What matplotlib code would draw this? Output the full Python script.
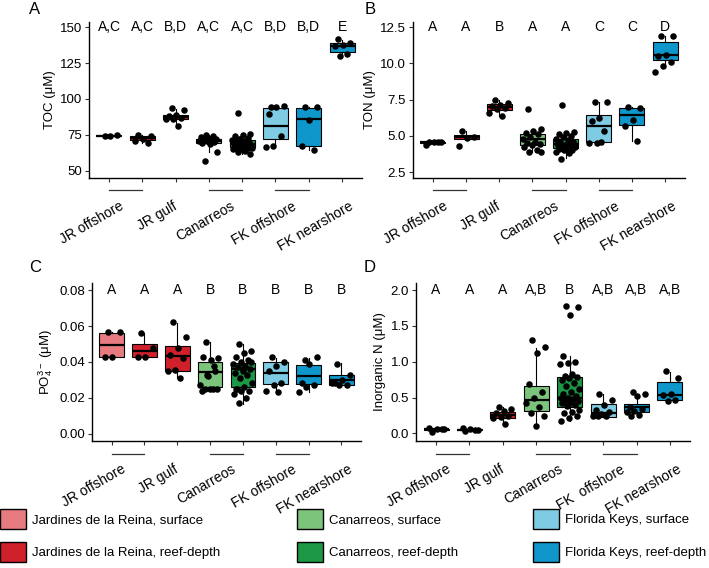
import matplotlib
matplotlib.use('Agg')
import matplotlib.pyplot as plt
import matplotlib.transforms as mtransforms
from matplotlib.patches import Patch
import numpy as np

plt.rcParams['font.family'] = ['Liberation Sans', 'DejaVu Sans']
plt.rcParams['mathtext.default'] = 'regular'

# groups: 8 boxes per panel
site_labels = ['JR offshore', 'JR gulf', 'Canarreos', 'FK offshore', 'FK nearshore']
legend_labels = ['Jardines de la Reina, surface', 'Jardines de la Reina, reef-depth',
                 'Canarreos, surface', 'Canarreos, reef-depth',
                 'Florida Keys, surface', 'Florida Keys, reef-depth']
palette = ['#E77B80', '#D0202B', '#7CC47C', '#1B9746', '#7FCBE4', '#0F96CB']
box_color_idx = [0, 1, 1, 2, 3, 4, 5, 5]

# ---- panel A: TOC
toc_q1 = [74.3, 71.5, 85.8, 69.5, 66.8, 72.0, 67.0, 133.0]
toc_med = [74.6, 73.0, 87.8, 71.0, 69.0, 81.5, 86.0, 136.5]
toc_q3 = [74.9, 74.3, 89.0, 72.5, 71.5, 93.8, 94.0, 138.8]
toc_lo = [74.3, 69.4, 81.0, 63.5, 62.0, 66.5, 64.5, 130.0]
toc_hi = [75.0, 74.8, 93.3, 75.0, 76.0, 94.5, 94.5, 141.0]
toc_pts = [
    [74.4, 74.9, 74.6],
    [74.8, 74.0, 72.5, 71.0, 69.4],
    [93.5, 92.5, 89.0, 88.0, 87.0, 86.2, 85.8, 81.0],
    [57.0, 63.5, 68.8, 69.5, 70.0, 70.5, 71.0, 71.5, 72.0, 72.5, 73.0, 73.5, 74.0, 75.0],
    [90.0, 76.0, 75.0, 74.0, 73.0, 72.0, 71.5, 71.0, 70.5, 70.0, 69.5, 69.0, 68.5, 68.0,
     67.5, 67.0, 66.5, 66.0, 65.5, 65.0, 64.0, 63.0, 62.0, 70.0, 68.0, 69.0, 72.0, 66.0],
    [94.5, 94.8, 94.2, 89.5, 74.0, 67.5, 66.5],
    [94.5, 94.5, 85.5, 67.0, 64.5],
    [142.0, 139.0, 137.5, 136.5, 131.0, 130.0],
]
toc_letters = ['A,C', 'A,C', 'B,D', 'A,C', 'A,C', 'B,D', 'B,D', 'E']

# ---- panel B: TON
ton_q1 = [4.50, 4.78, 6.80, 4.40, 4.15, 4.60, 5.75, 10.20]
ton_med = [4.55, 4.90, 6.98, 4.75, 4.45, 5.65, 6.45, 10.55]
ton_q3 = [4.58, 5.05, 7.18, 5.15, 4.75, 6.45, 6.95, 11.50]
ton_lo = [4.50, 4.75, 6.35, 3.85, 3.50, 4.50, 4.65, 9.80]
ton_hi = [4.60, 5.30, 7.50, 5.45, 5.25, 7.30, 7.00, 11.90]
ton_pts = [
    [4.6, 4.6, 4.6, 4.4, 4.55],
    [5.3, 4.95, 4.85, 4.3],
    [7.5, 7.25, 7.15, 7.05, 6.95, 6.85, 6.6, 6.35],
    [6.85, 5.45, 5.3, 5.2, 5.1, 4.9, 4.75, 4.6, 4.5, 4.45, 4.4, 4.2, 4.05, 3.9, 3.85],
    [7.1, 5.25, 5.2, 5.15, 5.0, 4.9, 4.8, 4.7, 4.6, 4.5, 4.4, 4.35, 4.3, 4.25, 4.2,
     4.15, 4.1, 4.05, 4.0, 3.9, 3.8, 3.4, 4.6, 4.3, 4.5],
    [7.3, 7.35, 6.2, 6.0, 5.3, 4.5, 4.5, 4.6],
    [7.0, 6.9, 6.1, 5.7, 4.65],
    [11.9, 11.9, 10.6, 10.5, 10.1, 9.8, 9.4],
]
ton_letters = ['A', 'A', 'B', 'A', 'A', 'C', 'C', 'D']

# ---- panel C: phosphate
po4_q1 = [0.0430, 0.0430, 0.0349, 0.0262, 0.0258, 0.0276, 0.0276, 0.0273]
po4_med = [0.0495, 0.0460, 0.0432, 0.0342, 0.0360, 0.0336, 0.0321, 0.0300]
po4_q3 = [0.0562, 0.0500, 0.0490, 0.0398, 0.0393, 0.0398, 0.0384, 0.0329]
po4_lo = [0.0430, 0.0430, 0.0308, 0.0244, 0.0168, 0.0240, 0.0235, 0.0270]
po4_hi = [0.0565, 0.0560, 0.0617, 0.0510, 0.0500, 0.0424, 0.0421, 0.0396]
po4_pts = [
    [0.0565, 0.0565, 0.0430, 0.0430],
    [0.0560, 0.0480, 0.0430, 0.0430],
    [0.0625, 0.0540, 0.0477, 0.0440, 0.0420, 0.0356, 0.0350, 0.0308],
    [0.0510, 0.0420, 0.0410, 0.0430, 0.0350, 0.0320, 0.0270, 0.0250, 0.0250,
     0.0250, 0.0250, 0.0240, 0.0380, 0.0330],
    [0.0500, 0.0460, 0.0450, 0.0430, 0.0410, 0.0400, 0.0390, 0.0380, 0.0370,
     0.0360, 0.0350, 0.0340, 0.0330, 0.0310, 0.0280, 0.0260, 0.0250, 0.0240,
     0.0240, 0.0220, 0.0200, 0.0170, 0.0400, 0.0360, 0.0250],
    [0.0430, 0.0400, 0.0380, 0.0350, 0.0280, 0.0270, 0.0240, 0.0230],
    [0.0410, 0.0430, 0.0390, 0.0285, 0.0270, 0.0260, 0.0235],
    [0.0390, 0.0330, 0.0300, 0.0280, 0.0270, 0.0270, 0.0280],
]
po4_letters = ['A', 'A', 'A', 'B', 'B', 'B', 'B', 'B']

# ---- panel D: inorganic N
din_q1 = [0.050, 0.050, 0.210, 0.313, 0.365, 0.235, 0.300, 0.470]
din_med = [0.060, 0.055, 0.260, 0.467, 0.490, 0.290, 0.365, 0.530]
din_q3 = [0.065, 0.060, 0.300, 0.668, 0.790, 0.410, 0.410, 0.720]
din_lo = [0.050, 0.040, 0.130, 0.100, 0.180, 0.240, 0.240, 0.450]
din_hi = [0.070, 0.080, 0.370, 1.190, 1.080, 0.550, 0.520, 0.860]
din_pts = [
    [0.02, 0.06, 0.065, 0.07, 0.06],
    [0.04, 0.055, 0.06, 0.08, 0.05],
    [0.37, 0.34, 0.31, 0.28, 0.25, 0.23, 0.22, 0.13],
    [1.30, 1.20, 1.12, 0.69, 0.58, 0.50, 0.42, 0.37, 0.28, 0.24, 0.10],
    [1.78, 1.76, 1.65, 1.08, 1.00, 0.99, 0.97, 0.83, 0.80, 0.79, 0.78, 0.75, 0.70,
     0.66, 0.62, 0.58, 0.55, 0.52, 0.50, 0.49, 0.48, 0.47, 0.45, 0.43, 0.42, 0.40,
     0.38, 0.33, 0.30, 0.28, 0.24, 0.22, 0.18],
    [0.55, 0.47, 0.40, 0.33, 0.30, 0.27, 0.25, 0.24, 0.24],
    [0.58, 0.55, 0.52, 0.37, 0.34, 0.32, 0.30, 0.26, 0.24],
    [0.87, 0.78, 0.55, 0.53, 0.47, 0.45],
]
din_letters = ['A', 'A', 'A', 'A,B', 'B', 'A,B', 'A,B', 'A,B']

W, H = 709, 568
fig = plt.figure(figsize=(W / 100, H / 100), dpi=100)


def px_axes(left, top, right, bottom):
    return fig.add_axes([left / W, 1 - bottom / H, (right - left) / W, (bottom - top) / H])


def panel(ax, q1, med, q3, lo, hi, pts, letters, ylim, yticks, yfmt, ylabel,
          letter_y, site_pos):
    pos = np.arange(1, 9)
    stats = [dict(med=med[i], q1=q1[i], q3=q3[i], whislo=lo[i], whishi=hi[i], fliers=[])
             for i in range(8)]
    bp = ax.bxp(stats, positions=pos, widths=0.75, patch_artist=True, showcaps=False,
                showfliers=False,
                boxprops=dict(edgecolor='black', linewidth=0.8),
                whiskerprops=dict(color='black', linewidth=0.8),
                medianprops=dict(color='black', linewidth=1.6))
    for patch, ci in zip(bp['boxes'], box_color_idx):
        patch.set_facecolor(palette[ci])
    for i, p in enumerate(pts):
        n = len(p)
        off = ((np.arange(n) * 0.618034 + 0.3) % 1 - 0.5) * 0.6
        ax.scatter(pos[i] + off, p, s=22, color='black', zorder=5, linewidths=0)
    for i, t in enumerate(letters):
        ax.text(pos[i], letter_y, t, ha='center', va='center', fontsize=10)
    ax.set_xlim(0.4, 8.6)
    ax.set_ylim(*ylim)
    ax.set_yticks(yticks)
    ax.set_yticklabels([yfmt.format(v) for v in yticks], fontsize=9.5)
    ax.set_xticks(pos)
    ax.set_xticklabels([])
    ax.set_ylabel(ylabel, fontsize=9.5, labelpad=3)
    for s in ['top', 'right']:
        ax.spines[s].set_visible(False)
    for s in ['left', 'bottom']:
        ax.spines[s].set_linewidth(1.0)
    ax.tick_params(length=3, width=0.8, color='#333333', pad=2)
    trans = mtransforms.blended_transform_factory(ax.transData, ax.transAxes)
    for a, b in [(1, 2), (4, 5), (6, 7)]:
        ax.plot([a, b], [-0.08, -0.08], color='#333333', lw=0.9, transform=trans,
                clip_on=False)
    for lab, xp in zip(site_pos[0], site_pos[1]):
        ax.text(xp, -0.135, lab, transform=trans, rotation=30, ha='right', va='top',
                rotation_mode='anchor', fontsize=10)


lab_x = [1.3, 2.9, 4.65, 6.5, 8.2]
axA = px_axes(89, 22, 362, 178)
panel(axA, toc_q1, toc_med, toc_q3, toc_lo, toc_hi, toc_pts, toc_letters,
      (45.1, 153.5), [50, 75, 100, 125, 150], '{:.0f}', 'TOC (μM)', 150,
      (site_labels, lab_x))
axB = px_axes(413, 22, 685, 178)
panel(axB, ton_q1, ton_med, ton_q3, ton_lo, ton_hi, ton_pts, ton_letters,
      (2.09, 12.85), [2.5, 5.0, 7.5, 10.0, 12.5], '{:.1f}', 'TON (μM)', 12.5,
      (site_labels, lab_x))
axC = px_axes(92, 283, 361, 441)
panel(axC, po4_q1, po4_med, po4_q3, po4_lo, po4_hi, po4_pts, po4_letters,
      (-0.0041, 0.0841), [0.0, 0.02, 0.04, 0.06, 0.08], '{:.2f}',
      r'PO$_4^{3-}$ (μM)', 0.08, (site_labels, lab_x))
axD = px_axes(416, 283, 690, 441)
site_labels_d = ['JR offshore', 'JR gulf', 'Canarreos', 'FK  offshore', 'FK nearshore']
panel(axD, din_q1, din_med, din_q3, din_lo, din_hi, din_pts, din_letters,
      (-0.105, 2.1), [0.0, 0.5, 1.0, 1.5, 2.0], '{:.1f}', 'Inorganic N (μM)', 2.0,
      (site_labels_d, lab_x))

for lbl, x, y in [('A', 35, 10), ('B', 370, 10), ('C', 35, 268), ('D', 370, 268)]:
    fig.text(x / W, 1 - y / H, lbl, fontsize=12, ha='center', va='center')

# legend: three columns, two rows
for col, x in enumerate([0, 297, 533]):
    handles = [Patch(facecolor=palette[2 * col + r], edgecolor='black', linewidth=1.0)
               for r in range(2)]
    fig.legend(handles, legend_labels[2 * col:2 * col + 2], loc='upper left',
               bbox_to_anchor=(x / W, 1 - 509 / H), frameon=False, fontsize=9.5,
               handlelength=1.95, handleheight=1.95, handletextpad=0.5,
               labelspacing=1.0, borderpad=0, borderaxespad=0)

fig.savefig('out.png', dpi=100)
